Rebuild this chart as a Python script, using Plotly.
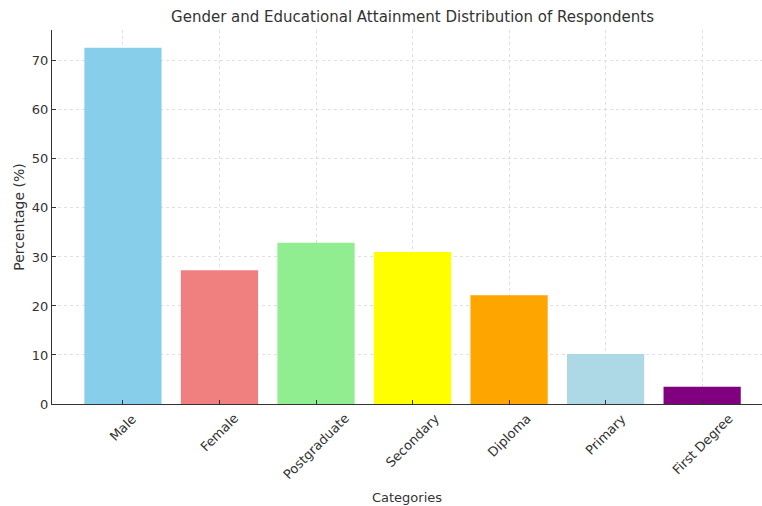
import plotly.graph_objects as go

categories = ["Male", "Female", "Postgraduate", "Secondary", "Diploma", "Primary", "First Degree"]
values = [72.7, 27.3, 32.9, 31.0, 22.2, 10.2, 3.5]
colors = ["#87CEEB", "#F08080", "#90EE90", "#FFFF00", "#FFA500", "#ADD8E6", "#800080"]
y_ticks = [0, 10, 20, 30, 40, 50, 60, 70]

font_family = "DejaVu Sans"
text_color = "#333333"

fig = go.Figure()
fig.add_trace(go.Bar(
    x=list(range(len(categories))),
    y=values,
    marker=dict(color=colors, line=dict(width=0)),
    width=0.8,
    showlegend=False,
))

# category labels centred under each tick, rotated 45 degrees
for i, c in enumerate(categories):
    fig.add_annotation(
        x=i, y=0, xref="x", yref="y",
        text=c, textangle=-45, showarrow=False,
        xanchor="center", yanchor="top", yshift=-4,
        font=dict(family=font_family, size=13, color=text_color),
    )

fig.update_layout(
    width=762, height=506,
    margin=dict(l=52, r=0, t=30, b=102),
    paper_bgcolor="white", plot_bgcolor="white",
    title=dict(
        text="Gender and Educational Attainment Distribution of Respondents",
        x=(52 + 773) / 2 / 762, xanchor="center", y=1 - 17 / 506, yanchor="middle",
        font=dict(family=font_family, size=15, color=text_color),
    ),
    font=dict(family=font_family, size=13, color=text_color),
    bargap=0.2,
)
fig.update_xaxes(
    range=[-0.735, 6.62],
    tickmode="array", tickvals=list(range(len(categories))), ticktext=categories,
    showticklabels=False,
    ticks="inside", ticklen=4, tickcolor="#333333",
    showline=True, linecolor="#333333", linewidth=1.2,
    showgrid=True, gridcolor="#E0E0E0", griddash="dot", gridwidth=1,
    zeroline=False,
    title=dict(text="Categories", standoff=88, font=dict(family=font_family, size=13, color=text_color)),
)
fig.update_yaxes(
    range=[0, 76.3],
    tickmode="array", tickvals=y_ticks,
    ticks="inside", ticklen=4, tickcolor="#333333",
    showline=True, linecolor="#333333", linewidth=1.2,
    showgrid=True, gridcolor="#E0E0E0", griddash="dot", gridwidth=1,
    zeroline=False,
    tickfont=dict(family=font_family, size=13, color=text_color),
    title=dict(text="Percentage (%)", standoff=3, font=dict(family=font_family, size=14, color=text_color)),
)
fig.write_html("out.html")
